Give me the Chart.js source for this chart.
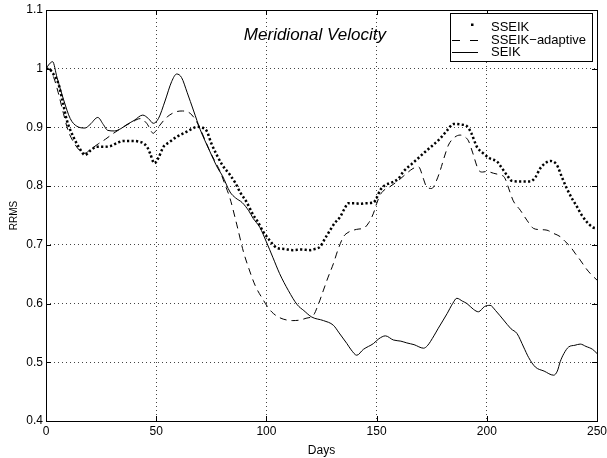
<!DOCTYPE html>
<html>
<head>
<meta charset="utf-8">
<script src="https://cdn.jsdelivr.net/npm/chart.js@4/dist/chart.umd.min.js"></script>
<style>
  html, body { margin: 0; padding: 0; background: #fff; }
  #wrap { width: 607px; height: 458px; position: relative; }
</style>
</head>
<body>
<div id="wrap"><canvas id="rrmschart"></canvas></div>
<script>
  // MERIDIONAL VELOCITY RRMS
  // Setup Block
  const xTicks = [0, 50, 100, 150, 200, 250];
  const yTicks = [0.4, 0.5, 0.6, 0.7, 0.8, 0.9, 1.0, 1.1];
  const yTickLabels = ['0.4', '0.5', '0.6', '0.7', '0.8', '0.9', '1', '1.1'];
  const seriesNames = ['SSEIK', 'SSEIK\u2212adaptive', 'SEIK'];
  const titleText = 'Meridional Velocity';

  const sseikDays = [0, 1.2, 3.5, 5.6, 7.5, 9.4, 12.4, 15, 17.7, 20, 23, 26, 29, 32, 35, 39.6, 42, 44.2, 46, 47.2, 49.2, 51, 53.3, 56, 59.3, 63, 66, 68.4, 70.5, 72.9, 75, 77.5, 80, 83.5, 86, 88, 91, 94, 96, 98.6, 101, 104.7, 108, 112, 116, 119.8, 122, 124.4, 126.5, 128.9, 131, 133.5, 135.5, 137.2, 140, 142.5, 145, 148.6, 150, 151.6, 153.9, 156, 159.9, 162.2, 166, 169, 171.3, 175, 178.8, 182, 184.9, 188, 191, 193, 195.5, 198, 201.5, 204.6, 207, 209.1, 211.4, 215, 219.7, 222, 224.2, 226.5, 228.8, 231.8, 234, 236.3, 238.5, 240.9, 243, 245.4, 248, 250];
  const sseikVals = [1.000, 1.000, 0.990, 0.975, 0.945, 0.913, 0.884, 0.866, 0.853, 0.860, 0.867, 0.867, 0.868, 0.873, 0.877, 0.877, 0.876, 0.873, 0.866, 0.856, 0.839, 0.848, 0.867, 0.875, 0.884, 0.891, 0.897, 0.901, 0.900, 0.894, 0.873, 0.853, 0.836, 0.819, 0.805, 0.790, 0.773, 0.751, 0.740, 0.722, 0.710, 0.695, 0.693, 0.691, 0.692, 0.691, 0.693, 0.697, 0.710, 0.725, 0.737, 0.748, 0.762, 0.771, 0.771, 0.770, 0.771, 0.772, 0.780, 0.793, 0.802, 0.805, 0.813, 0.825, 0.838, 0.848, 0.856, 0.868, 0.881, 0.895, 0.906, 0.905, 0.902, 0.890, 0.867, 0.857, 0.847, 0.842, 0.830, 0.819, 0.809, 0.808, 0.808, 0.815, 0.830, 0.839, 0.843, 0.836, 0.816, 0.796, 0.780, 0.765, 0.751, 0.739, 0.730, 0.728];

  const adaptiveDays = [0, 1.2, 3.5, 5.5, 7.9, 10, 13, 15.5, 17.7, 20, 23.7, 27, 30.6, 33.5, 36.6, 39.5, 42.7, 45.7, 48.7, 50, 51.7, 55, 59.3, 62, 65.4, 68, 69.9, 72, 74.4, 77, 79, 81, 83.5, 86.6, 89.6, 92, 95, 98.6, 101, 103.2, 106, 109.2, 112, 115.3, 118, 121.3, 123.5, 125.9, 128, 130.4, 132.5, 135, 137, 139.5, 142, 144, 146.5, 148.6, 150, 151.6, 154, 156, 160, 163.7, 166.5, 169, 171.3, 172.5, 175, 177, 178.8, 181, 182.6, 185, 187.9, 190, 191.7, 193.5, 196.2, 198, 200, 203, 206, 208, 210.5, 212, 215.2, 218.2, 221.2, 224, 227.3, 230, 233.3, 235.5, 237.9, 240, 242.4, 245, 247, 250];
  const adaptiveVals = [1.000, 1.000, 0.985, 0.960, 0.924, 0.895, 0.872, 0.860, 0.856, 0.862, 0.872, 0.880, 0.890, 0.897, 0.904, 0.910, 0.915, 0.907, 0.890, 0.895, 0.904, 0.918, 0.927, 0.928, 0.924, 0.912, 0.898, 0.880, 0.859, 0.840, 0.825, 0.805, 0.779, 0.734, 0.688, 0.660, 0.630, 0.606, 0.592, 0.583, 0.576, 0.572, 0.571, 0.572, 0.575, 0.580, 0.598, 0.623, 0.645, 0.668, 0.692, 0.714, 0.721, 0.725, 0.727, 0.728, 0.738, 0.754, 0.770, 0.785, 0.795, 0.799, 0.810, 0.822, 0.830, 0.833, 0.812, 0.800, 0.796, 0.808, 0.826, 0.853, 0.870, 0.882, 0.887, 0.884, 0.877, 0.858, 0.828, 0.824, 0.825, 0.822, 0.819, 0.815, 0.790, 0.775, 0.759, 0.742, 0.728, 0.726, 0.725, 0.720, 0.714, 0.706, 0.697, 0.686, 0.674, 0.660, 0.651, 0.640];

  const seikDays = [0, 1.5, 3, 5, 8, 11, 14, 17.7, 20, 23.5, 26, 28, 31, 34, 36.3, 40, 43.9, 46.5, 48.7, 51, 54, 57, 59.3, 61.5, 64, 67, 70, 74, 78, 80, 83.5, 86, 89, 92, 94, 97, 100, 103, 106, 110, 114, 117, 120.6, 125.9, 130.4, 133, 136.5, 138.5, 141, 144, 148.6, 151, 154, 157.6, 161, 163.7, 167, 171.3, 173, 176, 178, 182, 184.5, 186.4, 189, 191, 194, 196.2, 199, 201.5, 204, 207.6, 211, 213.7, 216.7, 219, 222, 226, 230.3, 232, 233.3, 235, 237.1, 240, 242.4, 245, 248, 250];
  const seikVals = [1.000, 1.008, 1.012, 0.985, 0.947, 0.915, 0.902, 0.899, 0.905, 0.917, 0.905, 0.895, 0.894, 0.898, 0.904, 0.912, 0.921, 0.915, 0.907, 0.915, 0.945, 0.978, 0.991, 0.985, 0.960, 0.928, 0.896, 0.862, 0.830, 0.818, 0.790, 0.780, 0.772, 0.758, 0.745, 0.730, 0.705, 0.678, 0.651, 0.622, 0.598, 0.588, 0.577, 0.571, 0.563, 0.550, 0.532, 0.521, 0.512, 0.522, 0.532, 0.540, 0.545, 0.538, 0.536, 0.533, 0.530, 0.524, 0.528, 0.545, 0.558, 0.583, 0.600, 0.609, 0.604, 0.600, 0.590, 0.586, 0.595, 0.597, 0.588, 0.572, 0.557, 0.549, 0.526, 0.508, 0.492, 0.485, 0.478, 0.485, 0.501, 0.515, 0.526, 0.529, 0.531, 0.527, 0.522, 0.515];

  const toPoints = (xs, ys) => xs.map((d, i) => ({ x: d, y: ys[i] }));
  const FONT = '"Liberation Sans", Arial, Helvetica, sans-serif';

  const data_rrms = {
    datasets: [{
      label: seriesNames[0],
      data: toPoints(sseikDays, sseikVals),
      borderColor: '#000',
      borderWidth: 2.5,
      borderDash: [2.2, 2.3],
      pointRadius: 0,
      cubicInterpolationMode: 'monotone'
    }, {
      label: seriesNames[1],
      data: toPoints(adaptiveDays, adaptiveVals),
      borderColor: '#000',
      borderWidth: 1,
      borderDash: [7, 5],
      pointRadius: 0,
      cubicInterpolationMode: 'monotone'
    }, {
      label: seriesNames[2],
      data: toPoints(seikDays, seikVals),
      borderColor: '#000',
      borderWidth: 1,
      pointRadius: 0,
      cubicInterpolationMode: 'monotone'
    }]
  };

  // box, inward ticks, title and legend in the matlab look
  const matlabFrame = {
    id: 'matlabFrame',
    afterDatasetsDraw(chart) {
      const { ctx, chartArea: a, scales: { x, y } } = chart;
      ctx.save();
      ctx.strokeStyle = '#000';
      ctx.lineWidth = 1;
      ctx.setLineDash([]);
      ctx.strokeRect(Math.round(a.left) + 0.5, Math.round(a.top) + 0.5, Math.round(a.right - a.left), Math.round(a.bottom - a.top));
      ctx.beginPath();
      xTicks.forEach(v => {
        const px = Math.round(x.getPixelForValue(v)) + 0.5;
        ctx.moveTo(px, a.bottom); ctx.lineTo(px, a.bottom - 5);
        ctx.moveTo(px, a.top); ctx.lineTo(px, a.top + 5);
      });
      yTicks.forEach(v => {
        const py = Math.round(y.getPixelForValue(v)) + 0.5;
        ctx.moveTo(a.left, py); ctx.lineTo(a.left + 5, py);
        ctx.moveTo(a.right, py); ctx.lineTo(a.right - 5, py);
      });
      ctx.stroke();

      // title inside the axes
      ctx.fillStyle = '#000';
      ctx.font = 'italic 17px ' + FONT;
      ctx.textAlign = 'center';
      ctx.textBaseline = 'alphabetic';
      ctx.fillText(titleText, x.getPixelForValue(122), y.getPixelForValue(1.0497));

      // legend box
      const bw = 142, bh = 48;
      const bx = Math.round(a.right) - bw - 5, by = Math.round(a.top) + 3;
      ctx.fillStyle = '#fff';
      ctx.fillRect(bx, by, bw, bh);
      ctx.strokeRect(bx + 0.5, by + 0.5, bw, bh);
      ctx.font = '13px ' + FONT;
      ctx.textAlign = 'left';
      const baselines = [by + 18, by + 31, by + 43];
      chart.data.datasets.forEach((ds, i) => {
        const base = baselines[i];
        const mid = base - 4.5;
        ctx.strokeStyle = '#000';
        ctx.fillStyle = '#000';
        if (i === 0) {
          ctx.fillRect(bx + 21, mid - 3, 2.5, 2.5);
        } else {
          ctx.lineWidth = 1;
          ctx.setLineDash(i === 1 ? [8, 10] : []);
          ctx.beginPath();
          ctx.moveTo(bx + 2, Math.round(mid) + 0.5);
          ctx.lineTo(bx + 28, Math.round(mid) + 0.5);
          ctx.stroke();
          ctx.setLineDash([]);
        }
        ctx.fillText(ds.label, bx + 41, base);
      });
      ctx.restore();
    }
  };

  // Config Block
  const config_rrms = {
    type: 'line',
    data: data_rrms,
    plugins: [matlabFrame],
    options: {
      responsive: true,
      maintainAspectRatio: false,
      animation: false,
      layout: { padding: { top: 10, right: 10, left: 0, bottom: 0 } },
      plugins: {
        legend: { display: false },
        tooltip: { enabled: false }
      },
      scales: {
        x: {
          type: 'linear',
          min: 0,
          max: 250,
          afterFit: s => { s.height = 37; s.paddingLeft = 0; s.paddingRight = 0; },
          afterBuildTicks: s => { s.ticks = xTicks.map(v => ({ value: v })); },
          ticks: { color: '#000', padding: 3, font: { family: FONT, size: 12 } },
          grid: { color: '#444', drawTicks: false },
          border: { display: false, dash: [1, 3] },
          title: { display: true, text: 'Days', color: '#000', padding: { top: 0, bottom: 0 }, font: { family: FONT, size: 12 } }
        },
        y: {
          min: 0.4,
          max: 1.1,
          afterFit: s => { s.width = 46; s.paddingTop = 0; s.paddingBottom = 0; },
          afterBuildTicks: s => { s.ticks = yTicks.map(v => ({ value: v })); },
          ticks: {
            color: '#000', padding: 3, font: { family: FONT, size: 12 },
            callback: (v, i) => yTickLabels[i]
          },
          grid: { color: '#444', drawTicks: false },
          border: { display: false, dash: [1, 3] },
          title: { display: true, text: 'RRMS', color: '#000', padding: { top: 8, bottom: 0 }, font: { family: FONT, size: 10 } }
        }
      }
    }
  };

  // Render Block
  const rrmschart = new Chart(
    document.getElementById('rrmschart'),
    config_rrms
  );
</script>
</body>
</html>
